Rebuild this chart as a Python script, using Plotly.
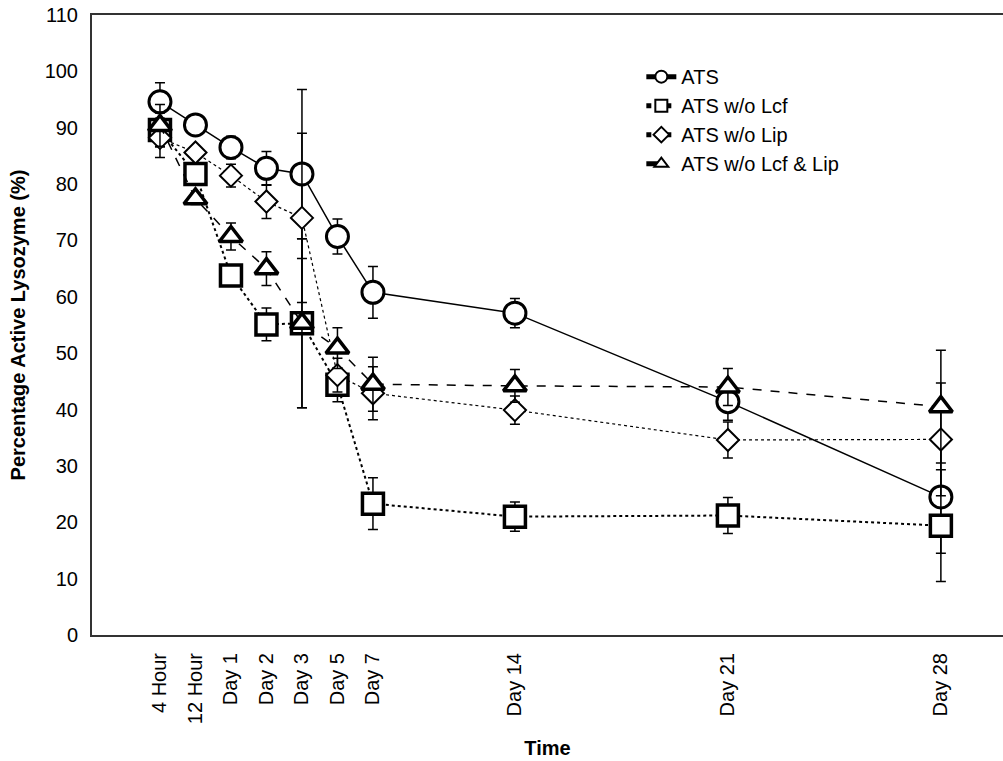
import plotly.graph_objects as go

time_labels = ["4 Hour", "12 Hour", "Day 1", "Day 2", "Day 3", "Day 5", "Day 7", "Day 14", "Day 21", "Day 28"]
time_pos = [0, 1, 2, 3, 4, 5, 6, 10, 16, 22]

ats = [94.6, 90.5, 86.5, 82.8, 81.8, 70.7, 60.8, 57.1, 41.4, 24.5]
ats_err = [3.4, 1.0, 2.0, 3.0, 15.0, 3.1, 4.6, 2.6, 3.3, 10.0]

lcf = [89.6, 81.8, 63.8, 55.1, 55.3, 44.4, 23.3, 21.0, 21.2, 19.4]
lcf_err = [3.0, 1.0, 1.8, 2.9, 15.0, 3.0, 4.6, 2.6, 3.2, 9.9]

lip = [88.2, 85.6, 81.5, 76.9, 74.0, 46.1, 42.9, 39.9, 34.6, 34.7]
lip_err = [3.5, 1.0, 2.0, 3.0, 15.0, 3.0, 4.7, 2.5, 3.2, 10.0]

lcflip = [90.4, 77.4, 70.7, 65.0, 55.3, 50.9, 44.5, 44.2, 44.0, 40.5]
lcflip_err = [3.7, 1.0, 2.4, 3.0, 15.0, 3.6, 4.8, 2.9, 3.3, 10.0]

series = [
    ("ATS", ats, ats_err, "circle", 22, 3, "solid", 1.5),
    ("ATS w/o Lcf", lcf, lcf_err, "square", 21, 3.5, "dot", 2),
    ("ATS w/o Lip", lip, lip_err, "diamond", 17, 2, "dot", 1.2),
    ("ATS w/o Lcf & Lip", lcflip, lcflip_err, "triangle-up", 20, 3.5, "dash", 1.5),
]

fig = go.Figure()
for name, vals, errs, sym, size, lw, dash, width in series:
    fig.add_trace(go.Scatter(
        x=time_pos, y=vals, name=name, mode="lines+markers",
        line=dict(color="black", width=width, dash=dash),
        marker=dict(symbol=sym, size=size, color="white",
                    line=dict(color="black", width=lw)),
        error_y=dict(type="data", array=errs, visible=True,
                     color="black", thickness=1.5, width=5),
    ))

fig.update_layout(
    width=1003, height=761,
    margin=dict(l=92, r=0, t=15, b=126),
    paper_bgcolor="white", plot_bgcolor="white",
    font=dict(family="Liberation Sans, Arial, sans-serif", size=20, color="black"),
    showlegend=True,
    legend=dict(x=0.603, y=0.932, xanchor="left", yanchor="top",
                bgcolor="rgba(0,0,0,0)", font=dict(size=20),
                tracegroupgap=0, itemsizing="constant"),
    xaxis=dict(
        range=[-1.915, 23.75], tickmode="array", tickvals=time_pos,
        ticktext=time_labels, tickangle=-90, showgrid=False, zeroline=False,
        showline=True, linecolor="#333", linewidth=2, mirror=True, ticks="",
        tickfont=dict(size=20), ticklabelstandoff=8,
        title=dict(text="<b>Time</b>", font=dict(size=20), standoff=18),
    ),
    yaxis=dict(
        range=[0, 110], tickmode="array", tickvals=list(range(0, 111, 10)),
        showgrid=False, zeroline=False, showline=True, linecolor="#333",
        linewidth=2, ticks="", tickfont=dict(size=20), ticklabelstandoff=8,
        title=dict(text="<b>Percentage Active Lysozyme (%)</b>", font=dict(size=20), standoff=14),
    ),
)

fig.write_html("out.html")
